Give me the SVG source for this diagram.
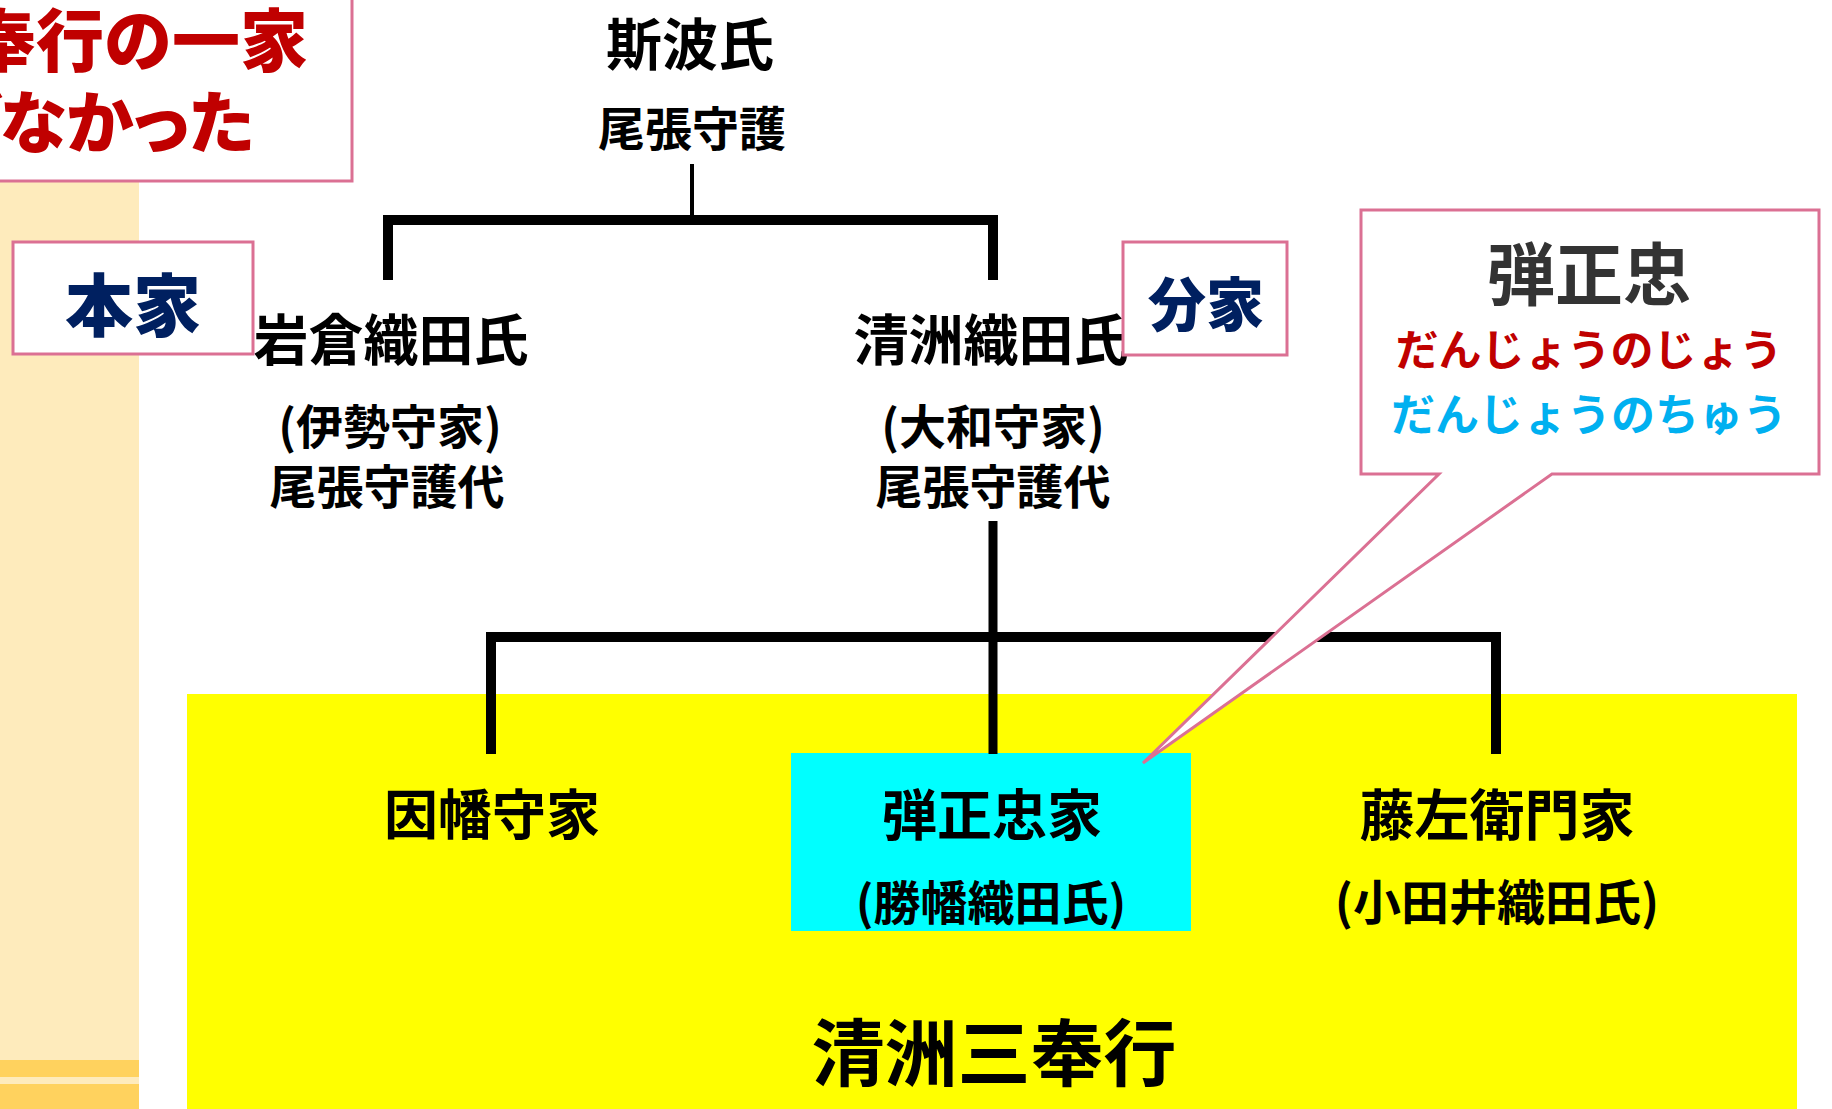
<svg xmlns="http://www.w3.org/2000/svg" width="1832" height="1109" viewBox="0 0 1832 1109">
<style>
.t{font-family:"Noto Sans CJK JP","Noto Sans CJK SC",sans-serif;font-weight:700;fill:#000;text-anchor:middle}
.lbl{font-family:"Noto Sans CJK JP",sans-serif;font-weight:900;text-anchor:middle}
.box{fill:#fff;stroke:#DB7093;stroke-width:3}
.ln{fill:none;stroke:#000;stroke-linejoin:miter;stroke-linecap:butt}
</style>
<rect width="1832" height="1109" fill="#fff"/>
<g id="sidebar">
<rect x="0" y="0" width="139" height="1109" fill="#FEEBBC"/>
<rect x="0" y="1060" width="139" height="17" fill="#FFD25E"/>
<rect x="0" y="1084" width="139" height="25" fill="#FFD25E"/>
</g>
<g id="title">
<rect class="box" x="-10" y="-10" width="362" height="191"/>
<text class="lbl" x="308" y="66" font-size="68" fill="#C00000" style="text-anchor:end">奉行の一家</text>
<text class="lbl" x="254" y="148" font-size="68" fill="#C00000" style="text-anchor:end;font-feature-settings:'palt'">ぎなかった</text>
</g>
<rect id="sanbugyo-area" x="187" y="694" width="1610" height="415" fill="#FFFF00"/>
<rect id="danjo-bg" x="791" y="753" width="400" height="178" fill="#00FFFF"/>
<g id="connectors">
<path class="ln" d="M692 164V216" stroke-width="4"/>
<path class="ln" d="M388 280V220H993V280" stroke-width="10"/>
<path class="ln" d="M993 521V754" stroke-width="9"/>
<path class="ln" d="M491 754V637H1496V754" stroke-width="10"/>
</g>
<g id="shiba">
<text class="t" x="690" y="65" font-size="56">斯波氏</text>
<text class="t" x="692" y="146" font-size="47">尾張守護</text>
</g>
<g id="iwakura">
<text class="t" x="391" y="360" font-size="55">岩倉織田氏</text>
<text class="t" x="390" y="444" font-size="47">(伊勢守家)</text>
<text class="t" x="387" y="504" font-size="47">尾張守護代</text>
</g>
<g id="kiyosu">
<text class="t" x="991" y="360" font-size="55">清洲織田氏</text>
<text class="t" x="993" y="444" font-size="47">(大和守家)</text>
<text class="t" x="993" y="504" font-size="47">尾張守護代</text>
</g>
<g id="inaba">
<text class="t" x="492" y="835" font-size="54">因幡守家</text>
</g>
<g id="danjo">
<text class="t" x="992" y="835" font-size="55">弾正忠家</text>
<text class="t" x="991" y="920" font-size="47">(勝幡織田氏)</text>
</g>
<g id="tozaemon">
<text class="t" x="1497" y="835" font-size="55">藤左衛門家</text>
<text class="t" x="1497" y="920" font-size="48">(小田井織田氏)</text>
</g>
<text class="t" x="994" y="1080" font-size="73">清洲三奉行</text>
<g id="honke">
<rect class="box" x="13" y="242" width="240" height="112"/>
<text class="lbl" x="133" y="331" font-size="68" fill="#002060">本家</text>
</g>
<g id="bunke">
<rect class="box" x="1123" y="242" width="164" height="113"/>
<text class="lbl" x="1206" y="326" font-size="58" fill="#002060">分家</text>
</g>
<g id="callout">
<path class="box" d="M1361 210H1819V474H1552L1143 763L1439 474H1361Z"/>
<text class="lbl" x="1589" y="300" font-size="68" fill="#333333" style="font-weight:700">弾正忠</text>
<text class="lbl" x="1589" y="366" font-size="43" fill="#C00000" style="font-weight:700">だんじょうのじょう</text>
<text class="lbl" x="1589" y="431" font-size="44" fill="#00B0F0" style="font-weight:700">だんじょうのちゅう</text>
</g>
</svg>
